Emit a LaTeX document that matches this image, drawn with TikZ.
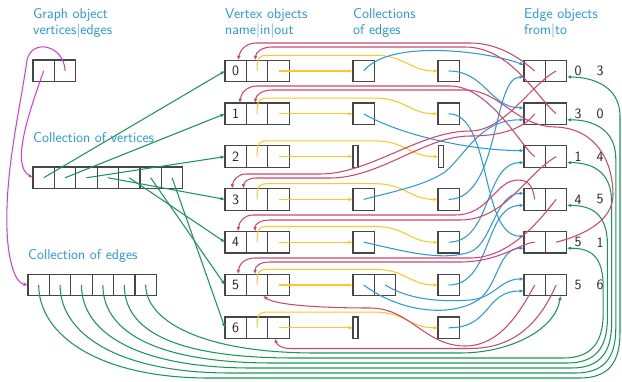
\documentclass[tikz,border=0pt]{standalone}
\usetikzlibrary{arrows.meta,calc}
\definecolor{ttl}{RGB}{38,150,214}
\definecolor{yel}{RGB}{255,198,40}
\definecolor{blu}{RGB}{45,152,218}
\definecolor{rd}{RGB}{205,70,110}
\definecolor{grn}{RGB}{25,150,85}
\definecolor{mag}{RGB}{205,65,215}
\definecolor{boxc}{RGB}{70,70,70}
\definecolor{txt}{RGB}{35,35,35}
\newcommand\bigsf{\fontsize{14.2}{16}\selectfont\sffamily}
\tikzset{
 cell/.style={draw=boxc, line width=1.25pt, minimum width=21.4pt, minimum height=21.5pt, inner sep=0pt, outer sep=0pt, font=\bigsf, text=txt},
 thincell/.style={cell, minimum width=5pt},
 ttlnode/.style={anchor=base west, inner sep=0pt, font=\bigsf, text=ttl},
 lbl/.style={inner sep=0pt, font=\bigsf, text=txt},
 conn/.style={line width=1.05pt, -{Latex[length=4.4pt,width=3.6pt]}},
 yl/.style={conn, draw=yel},
 bl/.style={conn, draw=blu},
 rdl/.style={conn, draw=rd},
 gr/.style={conn, draw=grn},
 mg/.style={conn, draw=mag}
}
\begin{document}
\begin{tikzpicture}[x=1pt,y=-1pt]
\useasboundingbox (0,0) rectangle (622,381);
% titles
\node[ttlnode] (t1a) at (33,18.5) {Graph object};
\node[ttlnode] (t1b) at (33,34.5) {vertices|edges};
\node[ttlnode] (t2a) at (225,18.5) {Vertex objects};
\node[ttlnode] (t2b) at (225,34.5) {name|in|out};
\node[ttlnode] (t3a) at (353,18.5) {Collections};
\node[ttlnode] (t3b) at (353,34.5) {of edges};
\node[ttlnode] (t4a) at (524,18.5) {Edge objects};
\node[ttlnode] (t4b) at (524,34.5) {from|to};
\node[ttlnode] (t5) at (33,142) {Collection of vertices};
\node[ttlnode] (t6) at (28,259) {Collection of edges};
% graph object
\node[cell] (g1) at (43.7,70.8) {};
\node[cell] (g2) at (65.1,70.8) {};
% collections
\foreach \k in {0,...,6} \node[cell] (cv\k) at ({43.7+21.4*\k},177.75) {};
\foreach \k in {0,...,5} \node[cell] (ce\k) at ({38.7+21.4*\k},285) {};
% vertex objects
\foreach \i/\y in {0/71,1/113.8,2/156.6,3/199.4,4/242.2,5/285,6/327.8}{
 \node[cell] (vn\i) at (235.7,\y) {\i};
 \node[cell] (vi\i) at (257.1,\y) {};
 \node[cell] (vo\i) at (278.5,\y) {};
}
% out collections
\node[cell] (oc0) at (363.7,71) {};
\node[cell] (oc1) at (363.7,113.8) {};
\node[thincell] (oc2) at (355.6,156.6) {};
\node[cell] (oc3) at (363.7,199.4) {};
\node[cell] (oc4) at (363.7,242.2) {};
\node[cell] (oc5) at (363.7,285) {};
\node[cell] (oc5b) at (385.1,285) {};
\node[thincell] (oc6) at (355.6,327.8) {};
% in collections
\node[cell] (ic0) at (448.7,71) {};
\node[cell] (ic1) at (448.7,113.8) {};
\node[thincell] (ic2) at (440.7,156.6) {};
\node[cell] (ic3) at (448.7,199.4) {};
\node[cell] (ic4) at (448.7,242.2) {};
\node[cell] (ic5) at (448.7,285) {};
\node[cell] (ic6) at (448.7,327.8) {};
% edge objects
\foreach \k/\y/\a/\b in {0/71/0/3,1/113.8/3/0,2/156.6/1/4,3/199.4/4/5,4/242.2/5/1,5/285/5/6}{
 \node[cell] (ef\k) at (534.7,\y) {};
 \node[cell] (et\k) at (556.1,\y) {};
 \node[lbl] (la\k) at (578,\y) {\a};
 \node[lbl] (lb\k) at (600,\y) {\b};
}
% magenta
\draw[mg] (g1.center) .. controls (30,110) and (10,165) .. (cv0.west);
\draw[mg] (g2.center) .. controls (64,45) and (32,38) .. (27,60) .. controls (20,110) and (5,170) .. (7,230) .. controls (8,260) and (15,283) .. (ce0.west);
% green vertex pointers
\foreach \i in {0,...,6} \draw[gr] (cv\i.center) -- (vn\i.west);
% green edge pointers
\foreach \k/\cx/\yl/\xr/\ye in {0/38.7/378/620/71,1/60.1/373/615.8/113.8,2/81.5/368/611.6/156.6,3/102.9/363/607.4/199.4,4/124.3/358/603.2/242.2}{
 \draw[gr] (ce\k.center) .. controls (\cx,335) and (\cx+60,\yl) .. (\cx+170,\yl) -- (\xr-40,\yl) .. controls (\xr-12,\yl) and (\xr,\yl-15) .. (\xr,\yl-45) -- (\xr,\ye+45) .. controls (\xr,\ye+15) and (592,\ye+6) .. ($(et\k.east)+(0,6)$);
}
\draw[gr] (ce5.center) .. controls (145.7,320) and (200,353) .. (315.7,353) -- (460,353) .. controls (510,353) and (555,330) .. ($(et5.south)+(4.5,0)$);
% yellow
\foreach \i in {0,...,6} \draw[yl] (vo\i.center) -- (oc\i.west);
\foreach \i/\y in {0/71,1/113.8,2/156.6,3/199.4,4/242.2,5/285,6/327.8}{
 \draw[yl] (vi\i.center) .. controls (257.1,\y-14) and (259,\y-15.7) .. (268,\y-15.7) -- (375,\y-15.7) .. controls (405,\y-15.7) and (410,\y) .. (ic\i.west);
}
% blue
\draw[bl] (oc0.center) .. controls (390,38) and (490,52) .. ($(ef0.west)+(0,-6)$);
\draw[bl] (ic0.center) .. controls (485,71) and (490,107.8) .. ($(ef1.west)+(0,-6)$);
\draw[bl] (oc1.center) .. controls (400,135) and (470,150.6) .. ($(ef2.west)+(0,-6)$);
\draw[bl] (ic1.center) .. controls (492,114) and (480,236.2) .. ($(ef4.west)+(0,-6)$);
\draw[bl] (oc3.center) .. controls (400,190) and (425,185) .. (445,172) .. controls (468,152) and (480,119.8) .. ($(ef1.west)+(0,6)$);
\draw[bl] (ic3.center) .. controls (500,199) and (492,77) .. ($(ef0.west)+(0,6)$);
\draw[bl] (oc4.center) .. controls (400,250) and (440,262) .. (470,252) .. controls (492,244) and (495,193.4) .. ($(ef3.west)+(0,-6)$);
\draw[bl] (ic4.center) .. controls (492,242) and (484,162.6) .. ($(ef2.west)+(0,6)$);
\draw[bl] (ic5.center) .. controls (492,285) and (484,205.4) .. ($(ef3.west)+(0,6)$);
\draw[bl] (oc5.center) .. controls (400,312) and (450,318) .. (478,300) .. controls (498,287) and (498,248.2) .. ($(ef4.west)+(0,6)$);
\draw[bl] (oc5b.center) .. controls (410,300) and (440,302) .. (470,300) .. controls (495,298) and (500,279) .. ($(ef5.west)+(0,-6)$);
\draw[bl] (ic6.center) .. controls (492,327.8) and (484,291) .. ($(ef5.west)+(0,6)$);
% red
\draw[rdl] (ef0.center) .. controls (522,60) and (500,43) .. (470,43) -- (256,43) .. controls (246,43) and (240,50) .. ($(vn0.north)+(2.3,0)$);
\draw[rdl] (et1.center) .. controls (535,95) and (510,47) .. (465,47) -- (272,47) .. controls (262,47) and (256,52) .. ($(vi0.north)+(-2,0)$);
\draw[rdl] (ef2.center) .. controls (522,148) and (490,86) .. (450,86) -- (257,86) .. controls (247,86) and (241,93) .. ($(vn1.north)+(4,0)$);
\draw[rdl] (et4.center) .. controls (585,235) and (613,220) .. (613,195) .. controls (613,160) and (595,128) .. (555,127) .. controls (515,126) and (500,90) .. (465,90) -- (272,90) .. controls (262,90) and (256,95) .. ($(vi1.north)+(-2,0)$);
\draw[rdl] (et0.center) .. controls (530,85) and (505,131) .. (470,131) .. controls (420,131) and (370,174) .. (320,174) -- (246,174) .. controls (238,174) and (233,180) .. ($(vn3.north)+(-3.7,0)$);
\draw[rdl] (ef1.center) .. controls (527,124) and (510,136) .. (470,136) .. controls (425,136) and (380,178) .. (330,178) -- (256,178) .. controls (248,178) and (244,182) .. ($(vn3.north)+(7.3,0)$);
\draw[rdl] (ef3.center) .. controls (533,188) and (530,180) .. (518,180) .. controls (495,180) and (490,215) .. (455,215) -- (253,215) .. controls (245,215) and (239,221) .. ($(vn4.north)+(2.3,0)$);
\draw[rdl] (et2.center) .. controls (525,175) and (505,220) .. (460,220) -- (270,220) .. controls (260,220) and (255,224) .. ($(vi4.north)+(-2,0)$);
\draw[rdl] (et3.center) .. controls (540,220) and (510,258) .. (470,258) -- (255,258) .. controls (245,258) and (239,264) .. ($(vn5.north)+(2.3,0)$);
\draw[rdl] (ef4.center) .. controls (520,243) and (500,262) .. (460,262) -- (270,262) .. controls (260,262) and (255,266) .. ($(vi5.north)+(-2,0)$);
\draw[rdl] (ef5.center) .. controls (520,312) and (500,346) .. (465,346) .. controls (425,346) and (410,308) .. (370,308) .. controls (320,308) and (275,305) .. ($(vi5.south)+(6,0)$);
\draw[rdl] (et5.center) .. controls (540,322) and (515,348.5) .. (470,348.5) -- (290,348.5) .. controls (282,348.5) and (277,345) .. ($(vo6.south)+(-3.5,0)$);
\end{tikzpicture}
\end{document}
